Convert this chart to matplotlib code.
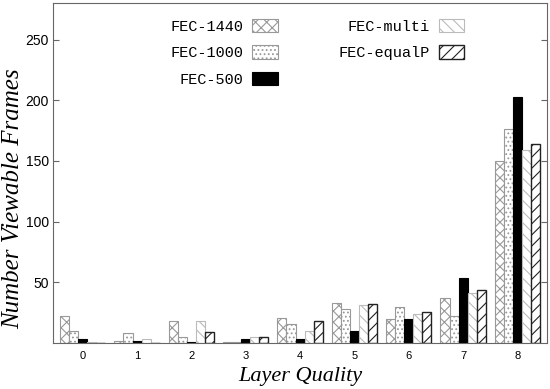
import matplotlib.pyplot as plt
import numpy as np

layers = [0, 1, 2, 3, 4, 5, 6, 7, 8]
fec_1440 = [22, 2, 18, 0.5, 21, 33, 20, 37, 150]
fec_1000 = [10, 8, 5, 1, 16, 28, 30, 22, 176]
fec_500 = [3, 2, 0.5, 3, 3, 10, 20, 54, 203]
fec_multi = [1, 3, 18, 5, 10, 31, 24, 41, 159]
fec_equalp = [0, 0, 9, 5, 18, 32, 26, 44, 164]

plt.rcParams["hatch.linewidth"] = 0.8

fig = plt.figure(figsize=(5.5, 3.89), dpi=100)
ax = fig.add_axes([0.096, 0.118, 0.899, 0.874])

x = np.arange(len(layers))
w = 0.166
series = [
    ("FEC-1440", fec_1440, dict(facecolor="white", edgecolor="#999999", hatch="xxx", linewidth=0.8)),
    ("FEC-1000", fec_1000, dict(facecolor="white", edgecolor="#999999", hatch="....", linewidth=0.8)),
    ("FEC-500", fec_500, dict(facecolor="black", edgecolor="black", linewidth=0.8)),
    ("FEC-multi", fec_multi, dict(facecolor="white", edgecolor="#bbbbbb", hatch="\\\\\\", linewidth=0.8)),
    ("FEC-equalP", fec_equalp, dict(facecolor="white", edgecolor="#222222", hatch="///", linewidth=1.0)),
]
for i, (name, vals, style) in enumerate(series):
    ax.bar(x + (i - 2) * w, vals, w, label=name, **style)

ax.set_xlim(-0.55, 8.55)
ax.set_ylim(0, 280)
ax.set_xticks(x)
ax.set_xticklabels(layers, fontsize=8, family="Liberation Sans")
ax.set_yticks([50, 100, 150, 200, 250])
ax.set_yticklabels(["50", "100", "150", "200", "250"], fontsize=10, family="Liberation Sans")
ax.tick_params(axis="x", length=0, pad=6)
ax.tick_params(axis="y", direction="in", right=True, length=4, color="#666666", pad=3)
for s in ax.spines.values():
    s.set_color("#666666")

ax.set_xlabel("Layer Quality", fontsize=16, family="Liberation Serif", style="italic", labelpad=4)
ax.set_ylabel("Number Viewable Frames", fontsize=18, family="Liberation Serif", style="italic")
ax.yaxis.set_label_coords(-0.058, 0.425)

ax.legend(loc="upper center", bbox_to_anchor=(0.535, 0.995), ncol=2, frameon=False,
          markerfirst=False, prop={"family": "Liberation Mono", "size": 11},
          handlelength=1.65, handleheight=1.0, handletextpad=0.6,
          columnspacing=4.0, labelspacing=0.75)

plt.savefig("out.png")
